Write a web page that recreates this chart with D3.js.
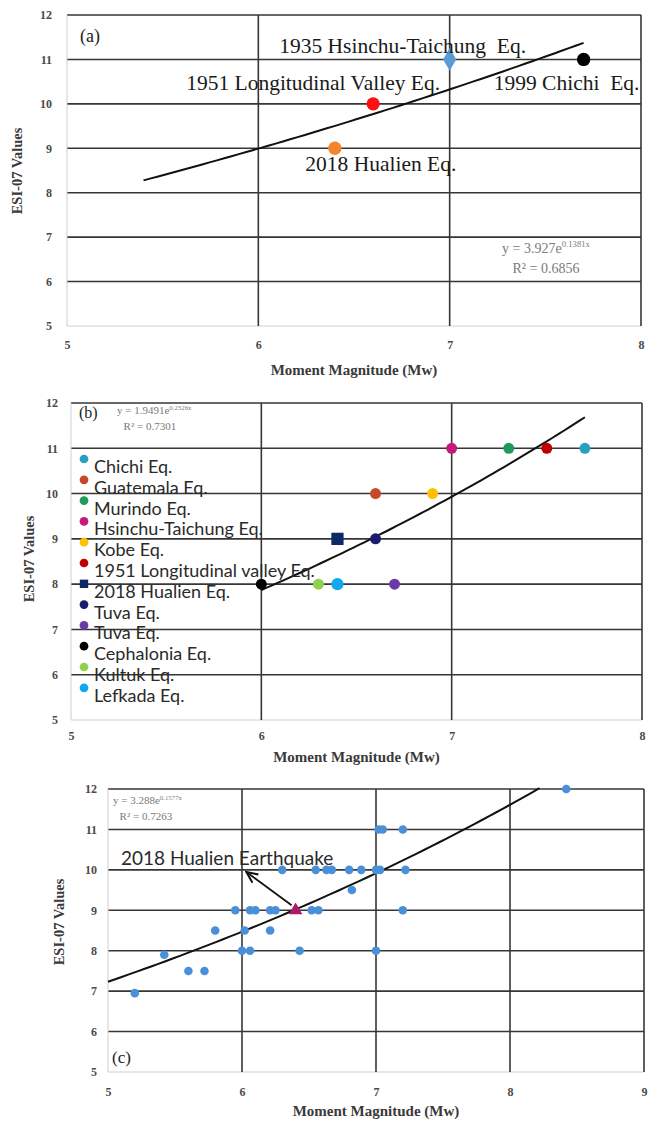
<!DOCTYPE html>
<html>
<head>
<meta charset="utf-8">
<script src="https://cdn.jsdelivr.net/npm/d3@7"></script>
<style>
  body { margin: 0; background: #fff; }
  svg { display: block; }
</style>
</head>
<body>
<div id="chart"></div>
<script>
const width = 667;
const height = 1125;

// shared ticks
const yTicks = [5, 6, 7, 8, 9, 10, 11, 12];
const xTicksAB = [5, 6, 7, 8];
const xTicksC = [5, 6, 7, 8, 9];

// (a) Taiwan earthquakes
const namesA = ["1935 Hsinchu-Taichung  Eq.", "1951 Longitudinal Valley Eq.", "1999 Chichi  Eq.", "2018 Hualien Eq."];
const mwA = [7.0, 6.6, 7.7, 6.4];
const esiA = [11, 10, 11, 9];
const fitA = [3.927, 0.1381];
const fitRangeA = [5.4, 7.7];

// (b) worldwide comparison
const namesB = ["Chichi Eq.", "Guatemala Eq.", "Murindo Eq.", "Hsinchu-Taichung Eq.", "Kobe Eq.",
  "1951 Longitudinal valley Eq.", "2018 Hualien Eq.", "Tuva Eq.", "Tuva Eq.", "Cephalonia Eq.",
  "Kultuk Eq.", "Lefkada Eq."];
const mwB = [7.7, 6.6, 7.3, 7.0, 6.9, 7.5, 6.4, 6.6, 6.7, 6.0, 6.3, 6.4];
const esiB = [11, 10, 11, 11, 10, 11, 9, 9, 8, 8, 8, 8];
const fitB = [1.9491, 0.2326];
const fitRangeB = [6.0, 7.7];

// (c) all events
const mwC = [5.2, 5.42, 5.6, 5.72, 5.8, 6.02, 6.21, 6.0, 6.06, 6.43, 7.0,
  5.95, 6.06, 6.1, 6.21, 6.25, 6.52, 6.57, 7.2, 6.82,
  6.3, 6.55, 6.63, 6.67, 6.8, 6.89, 7.0, 7.03, 7.22,
  7.02, 7.05, 7.2, 8.42];
const esiC = [6.95, 7.9, 7.5, 7.5, 8.5, 8.5, 8.5, 8, 8, 8, 8,
  9, 9, 9, 9, 9, 9, 9, 9, 9.5,
  10, 10, 10, 10, 10, 10, 10, 10, 10,
  11, 11, 11, 12];
const hualienC = [6.4, 9];
const arrowTipC = [6.04, 9.93];
const fitC = [3.288, 0.1577];
const fitRangeC = [5.0, 8.22];

// styles
const colorsA = ["#5b9bd5", "#ff1010", "#000000", "#f2842c"];
const shapesA = [d3.symbolDiamond, d3.symbolCircle, d3.symbolCircle, d3.symbolCircle];
const colorsB = ["#2a9fc4", "#c8482a", "#1e9a5c", "#c8187e", "#ffc000", "#c00000",
  "#0b2a66", "#1c1c6e", "#6a3aa8", "#000000", "#92d050", "#11a8ee"];
const shapesB = colorsB.map((c, i) => i === 6 ? d3.symbolSquare : d3.symbolCircle);

const serif = "'Liberation Serif', 'DejaVu Serif', serif";
const sans = "Lato, 'Open Sans', sans-serif";

const svg = d3.select("#chart").append("svg")
  .attr("width", width)
  .attr("height", height);

svg.append("defs").append("marker")
  .attr("id", "arrow")
  .attr("viewBox", "0 0 10 10")
  .attr("refX", 8).attr("refY", 5)
  .attr("markerWidth", 7).attr("markerHeight", 7)
  .attr("orient", "auto")
  .append("path")
  .attr("d", "M0,1 L9,5 L0,9")
  .attr("fill", "none")
  .attr("stroke", "#111")
  .attr("stroke-width", 1.6);

function panel(x, y, xTicks, o) {
  const g = svg.append("g");
  const [x0, x1] = x.range();
  const [y0, y1] = y.range();

  g.selectAll(".hg").data(yTicks).join("line")
    .attr("x1", x0).attr("x2", x1)
    .attr("y1", d => y(d)).attr("y2", d => y(d))
    .attr("stroke", d => d === 5 ? "#cfcfcf" : "#363636")
    .attr("stroke-width", d => d === 5 ? 1 : 1.6);

  g.selectAll(".vg").data(xTicks).join("line")
    .attr("x1", d => x(d)).attr("x2", d => x(d))
    .attr("y1", y0).attr("y2", y1)
    .attr("stroke", d => d === 5 ? "#cfcfcf" : "#363636")
    .attr("stroke-width", d => d === 5 ? 1 : 1.6);

  const ya = g.append("g")
    .attr("transform", `translate(${x0},0)`)
    .call(d3.axisLeft(y).tickValues(yTicks).tickSize(0).tickPadding(o.yPad).tickFormat(d3.format("d")));
  const xa = g.append("g")
    .attr("transform", `translate(0,${y0})`)
    .call(d3.axisBottom(x).tickValues(xTicks).tickSize(0).tickPadding(o.xPad).tickFormat(d3.format("d")));
  [ya, xa].forEach(a => {
    a.select(".domain").remove();
    a.selectAll("text")
      .attr("font-family", serif)
      .attr("font-weight", "bold")
      .attr("font-size", 12)
      .attr("fill", "#4a4a4a");
  });

  g.append("text")
    .attr("x", (x0 + x1) / 2)
    .attr("y", o.xTitleY)
    .attr("text-anchor", "middle")
    .attr("font-family", serif)
    .attr("font-weight", "bold")
    .attr("font-size", 15)
    .attr("fill", "#3a3a3a")
    .text("Moment Magnitude (Mw)");

  g.append("text")
    .attr("transform", `translate(${o.yTitleX},${o.yTitleY}) rotate(-90)`)
    .attr("text-anchor", "middle")
    .attr("font-family", serif)
    .attr("font-weight", "bold")
    .attr("font-size", 14.5)
    .attr("fill", "#3a3a3a")
    .text("ESI-07 Values");

  return g;
}

function trend(g, x, y, coef, range) {
  const step = (range[1] - range[0]) / 60;
  const xs = d3.range(range[0], range[1] + step / 2, step);
  g.append("path")
    .datum(xs)
    .attr("fill", "none")
    .attr("stroke", "#111")
    .attr("stroke-width", 2)
    .attr("d", d3.line().x(d => x(d)).y(d => y(coef[0] * Math.exp(coef[1] * d))));
}

function equation(g, px, py, coef, r2, size, anchor) {
  const t = g.append("text")
    .attr("x", px).attr("y", py)
    .attr("text-anchor", anchor)
    .attr("font-family", serif)
    .attr("font-size", size)
    .attr("fill", "#7a7a7a");
  t.append("tspan").text(`y = ${coef[0].toFixed(coef[0] === 1.9491 ? 4 : 3)}e`);
  t.append("tspan").attr("dy", -size * 0.4).attr("font-size", size * 0.62).text(`${coef[1]}x`);
  g.append("text")
    .attr("x", px + (anchor === "middle" ? 0 : size * 0.6)).attr("y", py + size * 1.45)
    .attr("text-anchor", anchor)
    .attr("font-family", serif)
    .attr("font-size", size)
    .attr("fill", "#7a7a7a")
    .text(`R² = ${r2}`);
}

// ---------- (a) ----------
const xA = d3.scaleLinear().domain([5, 8]).range([67, 641]);
const yA = d3.scaleLinear().domain([5, 12]).range([326, 15]);
const gA = panel(xA, yA, xTicksAB, { yPad: 15, xPad: 14, xTitleY: 375, yTitleX: 22, yTitleY: 171 });

gA.append("text").attr("x", 80).attr("y", 42)
  .attr("font-family", serif).attr("font-size", 18).attr("fill", "#222").text("(a)");

trend(gA, xA, yA, fitA, fitRangeA);

gA.selectAll(".ptA").data(mwA).join("path")
  .attr("transform", (d, i) => `translate(${xA(d)},${yA(esiA[i])})`)
  .attr("d", (d, i) => d3.symbol().type(shapesA[i]).size(i === 0 ? 150 : 140)())
  .attr("fill", (d, i) => colorsA[i]);

const labelOffA = [[-47, -6, "middle"], [67, -14, "end"], [-17, 31, "middle"], [46, 23, "middle"]];
gA.selectAll(".lbA").data(namesA).join("text")
  .attr("x", (d, i) => xA(mwA[i]) + labelOffA[i][0])
  .attr("y", (d, i) => yA(esiA[i]) + labelOffA[i][1])
  .attr("text-anchor", (d, i) => labelOffA[i][2])
  .attr("font-family", serif)
  .attr("font-size", 21.5)
  .attr("fill", "#1a1a1a")
  .style("white-space", "pre")
  .text(d => d);

equation(gA, 546, 253, fitA, "0.6856", 14, "middle");

// ---------- (b) ----------
const xB = d3.scaleLinear().domain([5, 8]).range([71, 642]);
const yB = d3.scaleLinear().domain([5, 12]).range([720, 403]);
const gB = panel(xB, yB, xTicksAB, { yPad: 13, xPad: 11, xTitleY: 762, yTitleX: 34, yTitleY: 559 });

gB.append("text").attr("x", 79).attr("y", 418)
  .attr("font-family", serif).attr("font-size", 16).attr("fill", "#222").text("(b)");
equation(gB, 117, 414, fitB, "0.7301", 11, "start");

trend(gB, xB, yB, fitB, fitRangeB);

gB.selectAll(".ptB").data(mwB).join("path")
  .attr("transform", (d, i) => `translate(${xB(d)},${yB(esiB[i])})`)
  .attr("d", (d, i) => d3.symbol().type(shapesB[i]).size(i === 6 ? 150 : (i === 11 ? 115 : 95))())
  .attr("fill", (d, i) => colorsB[i]);

const legB = gB.selectAll(".lgB").data(namesB).join("g")
  .attr("transform", (d, i) => `translate(84,${467 + i * 20.8})`);
legB.append("path")
  .attr("transform", "translate(0,-8)")
  .attr("d", (d, i) => d3.symbol().type(shapesB[i]).size(i === 6 ? 70 : 60)())
  .attr("fill", (d, i) => colorsB[i]);
legB.append("text")
  .attr("x", 10).attr("y", 6)
  .attr("font-family", sans)
  .attr("font-size", 18)
  .attr("fill", "#2a2a2a")
  .text(d => d);

// ---------- (c) ----------
const xC = d3.scaleLinear().domain([5, 9]).range([108, 644]);
const yC = d3.scaleLinear().domain([5, 12]).range([1072, 789]);
const gC = panel(xC, yC, xTicksC, { yPad: 11, xPad: 15, xTitleY: 1116, yTitleX: 64, yTitleY: 922 });

gC.append("text").attr("x", 112).attr("y", 1063)
  .attr("font-family", serif).attr("font-size", 17).attr("fill", "#222").text("(c)");
equation(gC, 113, 804, fitC, "0.7263", 11, "start");

trend(gC, xC, yC, fitC, fitRangeC);

gC.selectAll(".ptC").data(mwC).join("circle")
  .attr("cx", d => xC(d))
  .attr("cy", (d, i) => yC(esiC[i]))
  .attr("r", 4.3)
  .attr("fill", "#4a90d9");

gC.append("path")
  .attr("transform", `translate(${xC(hualienC[0])},${yC(hualienC[1])})`)
  .attr("d", d3.symbol().type(d3.symbolTriangle).size(80)())
  .attr("fill", "#b0186a");

gC.append("line")
  .attr("x1", xC(hualienC[0]) - 4).attr("y1", yC(hualienC[1]) - 5)
  .attr("x2", xC(arrowTipC[0])).attr("y2", yC(arrowTipC[1]))
  .attr("stroke", "#111")
  .attr("stroke-width", 1.8)
  .attr("marker-end", "url(#arrow)");

gC.append("text")
  .attr("x", 121).attr("y", 865)
  .attr("font-family", sans)
  .attr("font-size", 19)
  .attr("fill", "#2a2a2a")
  .text("2018 Hualien Earthquake");
</script>
</body>
</html>
